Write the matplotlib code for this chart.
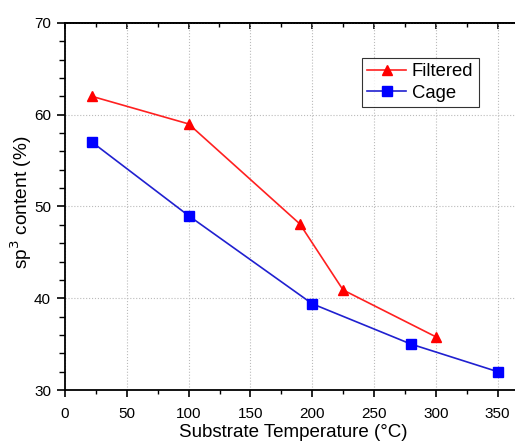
import matplotlib
matplotlib.use("Agg")
import matplotlib.pyplot as plt
from matplotlib.ticker import MultipleLocator

plt.rcParams['font.family'] = ['Liberation Sans', 'DejaVu Sans']

filtered_x = [22, 100, 190, 225, 300]
filtered_y = [62.0, 59.0, 48.1, 40.9, 35.8]
cage_x = [22, 100, 200, 280, 350]
cage_y = [57.0, 49.0, 39.4, 35.0, 32.0]

fig = plt.figure(figsize=(5.15, 4.46), dpi=100)
xw = 375 * 1.236
yh = 390 - 23
ax = fig.add_axes([65/515, 1-390/446, xw/515, yh/446])

ax.plot(filtered_x, filtered_y, color='#ff2020', lw=1.2, marker='^', ms=7.5,
        mfc='red', mec='red', label='Filtered', zorder=3)
ax.plot(cage_x, cage_y, color='#2020d0', lw=1.2, marker='s', ms=6.5,
        mfc='blue', mec='blue', label='Cage', zorder=3)

ax.set_xlim(0, 375)
ax.set_ylim(30, 70)
ax.xaxis.set_major_locator(MultipleLocator(50))
ax.xaxis.set_minor_locator(MultipleLocator(25))
ax.yaxis.set_major_locator(MultipleLocator(10))
ax.yaxis.set_minor_locator(MultipleLocator(2))
ax.grid(True, which='major', color='#bbbbbb', ls=':', lw=0.8)

ax.tick_params(axis='both', which='both', direction='out', labelsize=11,
               top=False, right=False)
ax.tick_params(axis='y', which='major', length=6, width=1.2, pad=4)
ax.tick_params(axis='y', which='minor', length=4, width=1.0)
ax.tick_params(axis='x', which='major', length=5, width=1.2, pad=7)
ax.tick_params(axis='x', which='minor', length=3, width=1.0)
ax.spines['right'].set_visible(False)
for side in ['left', 'bottom', 'top']:
    ax.spines[side].set_linewidth(1.3)

sec = ax.secondary_xaxis('top')
sec.xaxis.set_major_locator(MultipleLocator(50))
sec.xaxis.set_minor_locator(MultipleLocator(25))
sec.tick_params(axis='x', which='both', direction='in', labeltop=False)
sec.tick_params(which='major', length=4.5, width=1.2)
sec.tick_params(which='minor', length=3, width=1.0)
sec.spines['top'].set_linewidth(1.3)

ax.set_xlabel('Substrate Temperature (°C)', fontsize=13.5)
ax.xaxis.set_label_coords((293.5-65)/xw, (390-424)/yh)
ax.set_ylabel('sp$^3$ content (%)', fontsize=13.8)
ax.yaxis.set_label_coords((34-65)/xw, (390-202)/yh)

leg = ax.legend(loc='upper left', bbox_to_anchor=((361.7-65)/xw, 1-(57.7-23)/yh),
                fontsize=13.3, frameon=True, fancybox=False, edgecolor='black',
                borderpad=0.3, handlelength=2.1, handletextpad=0.3, labelspacing=0.25,
                borderaxespad=0)
leg.get_frame().set_linewidth(0.8)

fig.savefig('out.png', dpi=100)
